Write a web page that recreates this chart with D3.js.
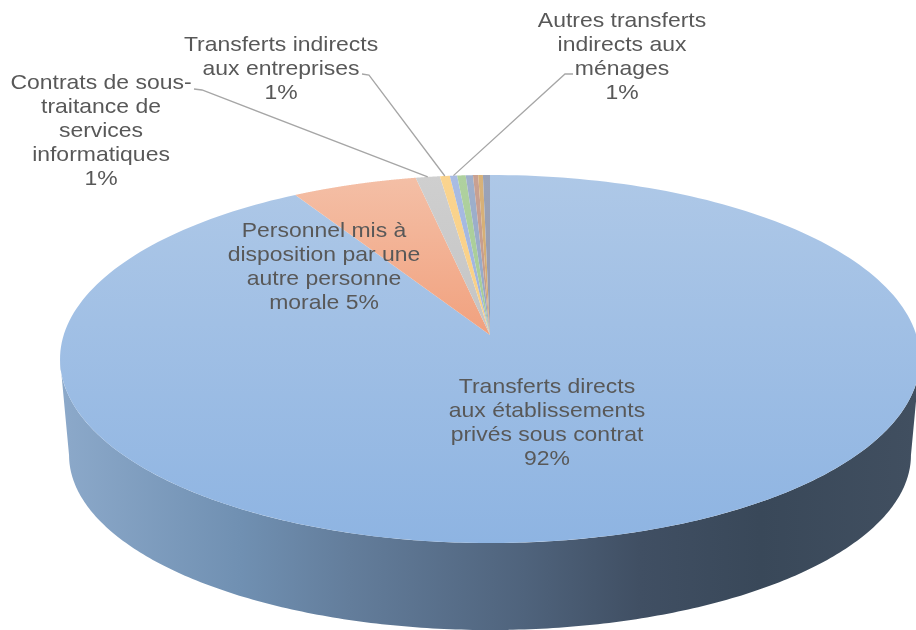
<!DOCTYPE html>
<html><head><meta charset="utf-8">
<script src="https://cdnjs.cloudflare.com/ajax/libs/d3/7.8.5/d3.min.js"></script>
<style>html,body{margin:0;padding:0;background:#fff;overflow:hidden}svg{display:block}text{font-family:"Liberation Sans",Arial,sans-serif;fill:#595959}</style>
</head><body><div id="chart"></div>
<script>
const categories = ["Transferts directs aux établissements privés sous contrat","Personnel mis à disposition par une autre personne morale","Contrats de sous-traitance de services informatiques","Transferts indirects aux entreprises","Autres transferts indirects aux ménages","Autre 1","Autre 2","Autre 3","Autre 4","Autre 5"];
const values = [91.52,5.33,1.03,0.42,0.31,0.36,0.31,0.22,0.20,0.30];
const topColors = ["#aec8e7","#f4bfa6","#cfcfcf","#fad48f","#a9bce3","#afd19f","#9fb0cc","#c9a192","#d8b27a","#9ba3b8"];
const botColors = ["#8eb4e2","#f1a17e","#c4c4c4","#f9cf85","#9db2de","#a6cb94","#94a7c5","#c39a8b","#d2aa70","#929ab0"];
const labelLines = [
 ["Transferts directs","aux établissements","privés sous contrat","92%"],
 ["Personnel mis à","disposition par une","autre personne","morale 5%"],
 ["Contrats de sous-","traitance de","services","informatiques","1%"],
 ["Transferts indirects","aux entreprises","1%"],
 ["Autres transferts","indirects aux","ménages","1%"]
];
const W=916,H=630;
const svg=d3.select("#chart").append("svg").attr("width",W).attr("height",H);
const defs=svg.append("defs");
const blur=defs.append("filter").attr("id","soft").attr("x","-5%").attr("y","-5%").attr("width","110%").attr("height","110%");
blur.append("feGaussianBlur").attr("stdDeviation",0.35);
const cx=490,apexY=335,k=0.1304,rx=426.3,ry=180.9,depth=97.4,sx=0.979,sy=0.95;
// perspective projection of a pie angle (0 = 12 o'clock, clockwise)
const project=(a,z=0)=>{const x=Math.sin(a),y=-Math.cos(a),w=1-k*y;
  return [cx+(z?sx:1)*rx*x/w,apexY+(z?sy:1)*ry*y/w+z];};
const pie=d3.pie().sort(null).value(d=>d);
const arcs=pie(values);
const line=d3.line();
const samples=(a0,a1,z=0)=>d3.range(0,241).map(i=>project(a0+(a1-a0)*i/240,z));

// wall: from silhouette tangent to silhouette tangent
const wallGrad=defs.append("linearGradient").attr("id","wall").attr("gradientUnits","userSpaceOnUse").attr("x1",60).attr("x2",916).attr("y1",0).attr("y2",0);
[[60,"#8ca9ca"],[240,"#7090b2"],[350,"#637d9b"],[525,"#4f637c"],[640,"#404f63"],[760,"#394859"],[916,"#414f60"]]
  .forEach(s=>wallGrad.append("stop").attr("offset",(s[0]-60)/856).attr("stop-color",s[1]));
const wallStart=Math.acos(-k), wallEnd=2*Math.PI-wallStart;
const outer=samples(wallStart,wallEnd,0), inner=samples(wallEnd,wallStart,depth);
svg.append("path").attr("d",line(outer.concat(inner))+"Z").attr("fill","url(#wall)");

// top faces
arcs.forEach((d,i)=>{
  const g=defs.append("linearGradient").attr("id","f"+i).attr("x1",0).attr("x2",0).attr("y1",0).attr("y2",1);
  g.append("stop").attr("offset",0).attr("stop-color",topColors[i]);
  g.append("stop").attr("offset",1).attr("stop-color",botColors[i]);
  const pts=[[cx,apexY]].concat(samples(d.startAngle,d.endAngle));
  svg.append("path").attr("d",line(pts)+"Z").attr("fill",`url(#f${i})`);
});

// leaders
const leaderColor="#a6a6a6";
const leaders=[[2,[[194,89],[202,90]]],[3,[[362,74],[369,75]]],[4,[[573,74],[565,74]]]];
leaders.forEach(([i,pts])=>{
  const end=project((arcs[i].startAngle+arcs[i].endAngle)/2);
  svg.append("path").attr("d",line(pts.concat([end]))).attr("fill","none").attr("stroke",leaderColor).attr("stroke-width",1.3);
});

// labels
const labelPos=[[547,393],[324,237],[101,89],[281,51],[622,27]];
labelLines.forEach((ls,i)=>{
  const t=svg.append("text").attr("text-anchor","middle").attr("font-size",20.5).attr("filter","url(#soft)")
    .attr("transform",`translate(${labelPos[i][0]},${labelPos[i][1]}) scale(1.12,1)`);
  ls.forEach((s,j)=>t.append("tspan").attr("x",0).attr("y",j*24).text(s));
});
</script></body></html>
